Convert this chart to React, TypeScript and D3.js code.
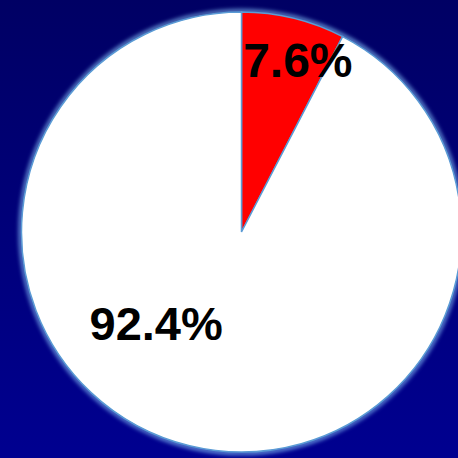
import React from "react";
import * as d3 from "d3";

const categories = ["A", "B"];
const values = [7.6, 92.4];
const colors = ["#ff0000", "#ffffff"];
const labels = ["7.6%", "92.4%"];
// label anchor in polar terms (degrees clockwise from top, radius fraction)
const labelAngles = [18.2, 222.9];
const labelRadii = [0.82, 0.57];
const labelSizes = [48, 47];

export default function App() {
  const W = 458, H = 458;
  const cx = 241.5, cy = 232, r = 220;
  const pie = d3.pie<number>().sort(null).startAngle(0).endAngle(2 * Math.PI);
  const arcs = pie(values);
  const arc = d3.arc<d3.PieArcDatum<number>>().innerRadius(0).outerRadius(r);
  return (
    <svg width={W} height={H} style={{ position: "absolute", left: 0, top: 0 }}>
      <defs>
        <linearGradient id="bg" x1="0" y1="0" x2="0" y2="1">
          <stop offset="0" stopColor="#000064" />
          <stop offset="1" stopColor="#000090" />
        </linearGradient>
        <filter id="glow" x="-10%" y="-10%" width="120%" height="120%">
          <feGaussianBlur stdDeviation="2" />
        </filter>
      </defs>
      <rect x={0} y={0} width={W} height={H} fill="url(#bg)" />
      <g transform={`translate(${cx},${cy})`}>
        <circle r={r + 1} fill="none" stroke="#7fb8f0" strokeWidth={3} filter="url(#glow)" />
        {arcs.map((a, i) => (
          <path key={categories[i]} d={arc(a) || ""} fill={colors[i]} stroke="#5b9bd5" strokeWidth={1.5} />
        ))}
        {labels.map((t, i) => {
          const ang = (labelAngles[i] * Math.PI) / 180;
          const rr = labelRadii[i] * r;
          return (
            <text
              key={t}
              x={rr * Math.sin(ang)}
              y={-rr * Math.cos(ang)}
              textAnchor="middle"
              dominantBaseline="central"
              fontFamily="'Liberation Sans', Arial, sans-serif"
              fontWeight="bold"
              fontSize={labelSizes[i]}
              fill="#000"
            >
              {t}
            </text>
          );
        })}
      </g>
    </svg>
  );
}
